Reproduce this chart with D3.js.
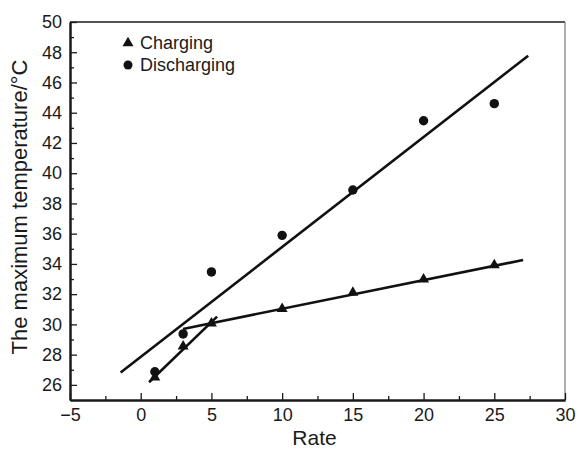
<!DOCTYPE html>
<html>
<head>
<meta charset="utf-8">
<script src="https://cdn.jsdelivr.net/npm/d3@7"></script>
<style>
  body { margin: 0; background: #fff; }
  text { font-family: "Liberation Sans", Arial, Helvetica, sans-serif; fill: #1a1a1a; }
</style>
</head>
<body>
<div id="chart"></div>
<script>
var margin = {left:70, right:14, top:22, bottom:50};

var width = 579 - margin.left - margin.right,
	height = 450 - margin.top - margin.bottom;

// data
var rates = [1, 3, 5, 10, 15, 20, 25];
var charging = [26.5, 28.55, 30.07, 31.03, 32.1, 32.98, 33.93];
var discharging = [26.87, 29.37, 33.47, 35.89, 38.89, 43.47, 44.6];

// fitted lines (end points)
var dischargeFit = [[-1.42, 26.82], [27.4, 47.77]];
var chargeFitLow = [[0.59, 26.17], [5.4, 30.51]];
var chargeFitHigh = [[2.99, 29.7], [27.04, 34.26]];

var xTicks = [-5, 0, 5, 10, 15, 20, 25, 30];
var xMinor = [-2.5, 2.5, 7.5, 12.5, 17.5, 22.5, 27.5];
var yTicks = [26, 28, 30, 32, 34, 36, 38, 40, 42, 44, 46, 48, 50];
var yMinor = [27, 29, 31, 33, 35, 37, 39, 41, 43, 45, 47, 49];

var svg = d3.select("#chart")
	.append("svg")
		.attr("width", 579)
		.attr("height", 450);

var canvas = svg.append("g")
	.attr("transform", "translate(" + margin.left + ", " + margin.top + ")");

var x = d3.scaleLinear()
	.domain([-5, 30])
	.range([0, width]);

var y = d3.scaleLinear()
	.domain([25, 50])
	.range([height, 0]);

// frame (top and right)
canvas.append("line")
	.attr("x1", 0).attr("x2", width)
	.attr("y1", 0).attr("y2", 0)
	.attr("stroke", "#1a1a1a").attr("stroke-width", 1.5);
canvas.append("line")
	.attr("x1", width).attr("x2", width)
	.attr("y1", 0).attr("y2", height)
	.attr("stroke", "#777").attr("stroke-width", 1.2);

// axes
var xAxisCall = d3.axisBottom(x)
	.tickValues(xTicks)
	.tickSizeInner(-7)
	.tickSizeOuter(0)
	.tickPadding(8);

var yAxisCall = d3.axisLeft(y)
	.tickValues(yTicks)
	.tickSizeInner(-7)
	.tickSizeOuter(0)
	.tickPadding(8);

var xg = canvas.append("g")
	.attr("class", "x axis")
	.attr("transform", "translate(0, " + height + ")")
	.call(xAxisCall);

var yg = canvas.append("g")
	.attr("class", "y axis")
	.call(yAxisCall);

canvas.append("g")
	.attr("transform", "translate(0, " + height + ")")
	.call(d3.axisBottom(x).tickValues(xMinor).tickSizeInner(-4).tickSizeOuter(0).tickFormat(""));

canvas.append("g")
	.call(d3.axisLeft(y).tickValues(yMinor).tickSizeInner(-4).tickSizeOuter(0).tickFormat(""));

canvas.selectAll(".axis text")
	.attr("font-size", "18px");
canvas.selectAll(".domain, .tick line")
	.attr("stroke", "#1a1a1a");
canvas.selectAll(".domain")
	.attr("stroke-width", 2);
canvas.selectAll(".tick line")
	.attr("stroke-width", 1.3);

// labels
canvas.append("text")
	.attr("x", width / 2 - 3)
	.attr("y", height + 45)
	.attr("font-size", "21px")
	.attr("text-anchor", "middle")
	.text("Rate");

canvas.append("text")
	.attr("transform", "rotate(-90)")
	.attr("x", -185)
	.attr("y", -43)
	.attr("font-size", "22px")
	.attr("text-anchor", "middle")
	.text("The maximum temperature/°C");

// fitted lines
var line = d3.line()
	.x(function(d){ return x(d[0]); })
	.y(function(d){ return y(d[1]); });

[dischargeFit, chargeFitLow, chargeFitHigh].forEach(function(seg){
	canvas.append("path")
		.datum(seg)
		.attr("d", line)
		.attr("fill", "none")
		.attr("stroke", "#111")
		.attr("stroke-width", 2.6);
});

// markers
var tri = d3.symbol().type(d3.symbolTriangle).size(52);

canvas.selectAll("circle.dis")
	.data(rates)
	.enter()
	.append("circle")
		.attr("class", "dis")
		.attr("cx", function(d){ return x(d); })
		.attr("cy", function(d, i){ return y(discharging[i]); })
		.attr("r", 4.7)
		.attr("fill", "#111");

canvas.selectAll("path.chg")
	.data(rates)
	.enter()
	.append("path")
		.attr("class", "chg")
		.attr("d", tri)
		.attr("transform", function(d, i){
			return "translate(" + x(d) + ", " + y(charging[i]) + ")";
		})
		.attr("fill", "#111");

// legend
var legend = canvas.append("g")
	.attr("transform", "translate(58, 21)");

legend.append("path")
	.attr("d", tri)
	.attr("transform", "translate(0, 0)")
	.attr("fill", "#111");
legend.append("text")
	.attr("x", 12)
	.attr("y", 6)
	.attr("font-size", "18px")
	.text("Charging");

legend.append("circle")
	.attr("cx", 0)
	.attr("cy", 22)
	.attr("r", 4.5)
	.attr("fill", "#111");
legend.append("text")
	.attr("x", 12)
	.attr("y", 28)
	.attr("font-size", "18px")
	.text("Discharging");
</script>
</body>
</html>
